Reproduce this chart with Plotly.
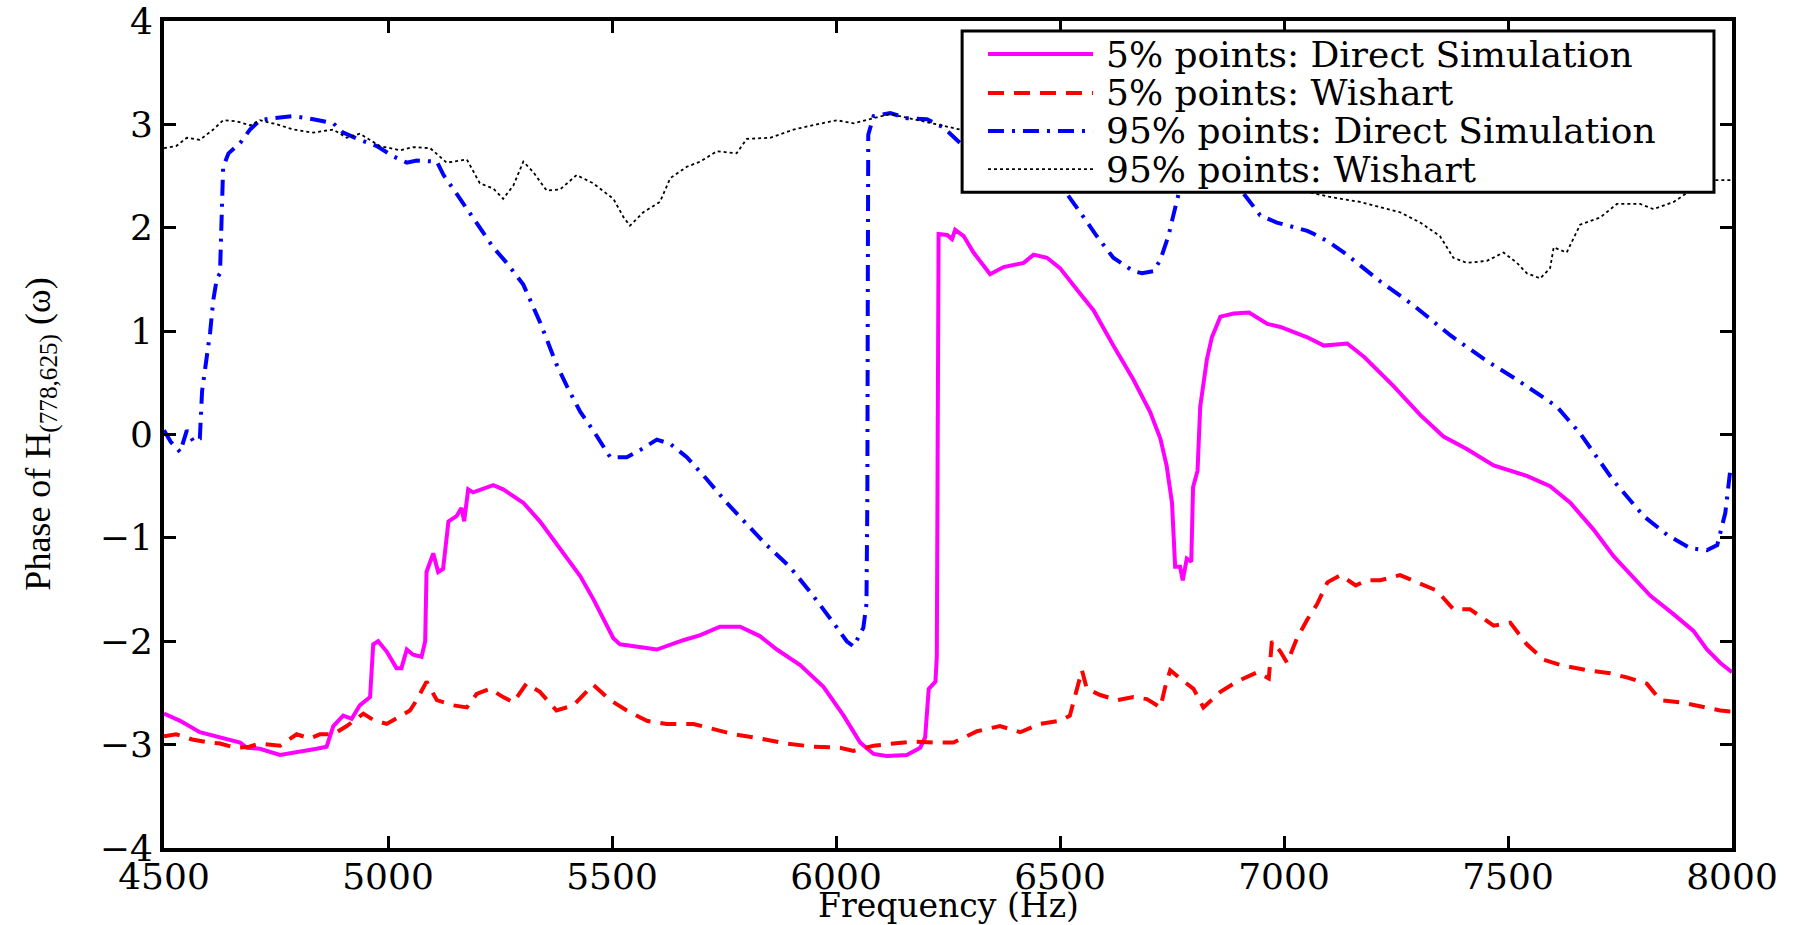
import plotly.graph_objects as go

# ---------------- data ----------------
freq_ds5 = [4500,4536,4580,4625,4670,4685,4714,4759,4804,4841,4863,4878,4900,4919,4937,4960,4967,4978,4997,5019,
            5030,5042,5056,5075,5083,5086,5101,5112,5123,5135,5153,5164,5170,5179,5190,5235,5257,5302,5339,5384,
            5429,5458,5503,5518,5555,5600,5659,5697,5741,5786,5830,5868,5920,5972,6017,6054,6084,6113,6158,6188,
            6199,6207,6222,6225,6229,6248,6259,6266,6285,6307,6344,6374,6419,6441,6471,6500,6538,6575,6619,6664,
            6701,6724,6738,6750,6757,6768,6774,6783,6793,6797,6807,6813,6828,6839,6858,6888,6922,6963,6992,7052,
            7089,7141,7179,7215,7244,7304,7356,7408,7468,7542,7594,7639,7691,7736,7780,7818,7870,7914,7944,7974,8000]
phase_ds5 = [-2.70,-2.77,-2.88,-2.93,-2.98,-3.03,-3.04,-3.10,-3.07,-3.04,-3.02,-2.82,-2.72,-2.75,-2.62,-2.54,-2.03,-2.00,-2.10,-2.26,
             -2.26,-2.08,-2.13,-2.15,-2.00,-1.33,-1.15,-1.33,-1.30,-0.84,-0.79,-0.71,-0.84,-0.53,-0.56,-0.49,-0.53,-0.66,-0.84,-1.10,
             -1.37,-1.59,-1.97,-2.03,-2.05,-2.08,-1.99,-1.94,-1.86,-1.86,-1.95,-2.08,-2.23,-2.44,-2.72,-2.98,-3.09,-3.11,-3.10,-3.03,
             -2.93,-2.46,-2.39,-2.15,1.94,1.93,1.89,1.98,1.92,1.76,1.55,1.62,1.66,1.74,1.71,1.61,1.40,1.20,0.86,0.53,
             0.22,-0.04,-0.30,-0.66,-1.28,-1.28,-1.41,-1.20,-1.23,-0.51,-0.35,0.27,0.73,0.94,1.14,1.17,1.18,1.07,1.04,0.94,
             0.86,0.88,0.75,0.60,0.47,0.19,-0.02,-0.14,-0.30,-0.40,-0.50,-0.66,-0.92,-1.18,-1.38,-1.56,-1.74,-1.90,-2.08,-2.21,-2.30]

freq_w5 = [4500,4527,4563,4600,4625,4660,4690,4714,4759,4796,4826,4848,4878,4908,4945,4967,4997,5027,5049,5064,
           5086,5109,5146,5176,5198,5228,5257,5280,5309,5339,5376,5414,5458,5496,5533,5578,5622,5682,5719,5771,
           5830,5890,5949,6009,6039,6084,6128,6173,6218,6262,6315,6366,6411,6455,6500,6522,6541,6549,6560,6590,
           6627,6664,6694,6724,6735,6746,6768,6798,6820,6858,6895,6940,6966,6973,6992,7007,7029,7052,7074,7097,
           7126,7160,7186,7215,7259,7296,7341,7378,7415,7468,7505,7542,7580,7617,7676,7728,7765,7810,7840,7884,
           7944,7974,8000]
phase_w5 = [-2.92,-2.90,-2.95,-2.98,-2.99,-3.03,-3.02,-2.99,-3.01,-2.90,-2.94,-2.90,-2.90,-2.82,-2.70,-2.76,-2.80,-2.72,-2.67,-2.57,
            -2.39,-2.57,-2.62,-2.64,-2.51,-2.46,-2.54,-2.59,-2.41,-2.49,-2.67,-2.62,-2.42,-2.57,-2.67,-2.77,-2.80,-2.80,-2.84,-2.90,
            -2.94,-2.99,-3.02,-3.03,-3.06,-3.01,-2.99,-2.97,-2.98,-2.98,-2.87,-2.82,-2.88,-2.80,-2.77,-2.72,-2.41,-2.28,-2.46,-2.52,
            -2.57,-2.54,-2.56,-2.64,-2.44,-2.28,-2.36,-2.46,-2.64,-2.49,-2.39,-2.30,-2.36,-2.00,-2.10,-2.21,-1.97,-1.79,-1.64,-1.43,
            -1.36,-1.46,-1.41,-1.41,-1.36,-1.43,-1.51,-1.69,-1.69,-1.85,-1.82,-2.03,-2.18,-2.23,-2.28,-2.31,-2.35,-2.41,-2.57,-2.59,
            -2.64,-2.67,-2.68]

freq_ds95 = [4500,4515,4536,4551,4566,4580,4585,4595,4603,4610,4618,4625,4629,4632,4644,4670,4692,4714,4744,4789,
             4833,4878,4900,4937,4975,5012,5042,5064,5109,5124,5153,5190,5235,5265,5302,5339,5376,5399,5429,5458,
             5496,5533,5563,5600,5630,5667,5711,5756,5801,5845,5897,5949,5994,6024,6039,6061,6068,6070,6071,6072,
             6084,6121,6158,6203,6240,6277,6350,6420,6480,6515,6545,6582,6619,6664,6683,6709,6724,6742,6753,6765,
             6800,6850,6910,6947,6984,7052,7067,7097,7134,7171,7215,7289,7371,7453,7520,7609,7661,7736,7803,7855,
             7907,7944,7967,7985,7996,8000]
phase_ds95 = [0.04,-0.07,-0.17,0.04,-0.07,-0.04,0.42,0.73,0.99,1.30,1.51,1.56,2.07,2.59,2.72,2.82,2.95,3.04,3.06,3.08,
              3.05,3.01,2.92,2.85,2.79,2.69,2.63,2.65,2.64,2.51,2.33,2.10,1.81,1.66,1.45,1.09,0.68,0.47,0.22,0.04,
              -0.22,-0.22,-0.15,-0.05,-0.09,-0.22,-0.43,-0.66,-0.87,-1.07,-1.28,-1.56,-1.82,-2.00,-2.05,-1.87,-1.64,-0.61,1.45,2.90,
              3.08,3.11,3.06,3.05,2.97,2.82,2.75,2.65,2.50,2.33,2.15,1.92,1.71,1.58,1.56,1.58,1.69,1.92,2.12,2.33,
              2.50,2.45,2.33,2.12,2.05,1.97,1.94,1.87,1.76,1.63,1.48,1.25,0.96,0.71,0.53,0.27,0.01,-0.45,-0.79,-0.97,
              -1.10,-1.12,-1.07,-0.76,-0.35,-0.30]

freq_w95 = [4500,4527,4551,4580,4610,4632,4662,4692,4714,4752,4789,4833,4878,4908,4937,4982,5027,5057,5094,5131,
            5176,5205,5235,5257,5280,5302,5324,5354,5384,5421,5458,5503,5526,5540,5570,5607,5630,5667,5697,5734,
            5778,5801,5853,5905,5957,6002,6039,6076,6121,6173,6225,6277,6400,6600,6800,7000,7100,7170,7215,7259,
            7304,7348,7378,7408,7453,7490,7520,7542,7572,7594,7602,7631,7661,7706,7743,7795,7825,7870,7914,7959,8000]
phase_w95 = [2.77,2.79,2.87,2.85,2.95,3.04,3.03,2.99,3.04,3.00,2.95,2.92,2.95,2.87,2.91,2.79,2.75,2.78,2.77,2.63,
             2.66,2.43,2.38,2.28,2.41,2.64,2.54,2.36,2.37,2.51,2.43,2.28,2.10,2.02,2.15,2.25,2.48,2.59,2.64,2.74,
             2.72,2.86,2.87,2.95,3.00,3.04,3.01,3.05,3.10,3.05,3.00,2.95,2.90,2.75,2.55,2.40,2.30,2.25,2.20,2.15,
             2.05,1.92,1.71,1.66,1.68,1.76,1.66,1.56,1.51,1.61,1.81,1.76,2.03,2.10,2.23,2.23,2.18,2.25,2.38,2.46,2.46]

x_ticks = [4500, 5000, 5500, 6000, 6500, 7000, 7500, 8000]
y_ticks = [-4, -3, -2, -1, 0, 1, 2, 3, 4]

series_names = ["5% points: Direct Simulation", "5% points: Wishart",
                "95% points: Direct Simulation", "95% points: Wishart"]
series_colors = ["#ff00ff", "#ff0000", "#0000ff", "#000000"]
series_widths = [4, 4, 4, 1.8]
series_dashes = ["solid", "16px,10px", "16px,8px,3px,8px", "3px,3px"]

x_title = "Frequency (Hz)"
y_title = "Phase of H<sub>(778,625)</sub> (ω)"

FONT = "DejaVu Serif"
FONT_Y = "Liberation Serif"

fig = go.Figure()
data = [(freq_ds5, phase_ds5), (freq_w5, phase_w5), (freq_ds95, phase_ds95), (freq_w95, phase_w95)]
for (fx, fy), name, col, w, d in zip(data, series_names, series_colors, series_widths, series_dashes):
    fig.add_trace(go.Scatter(x=fx, y=fy, mode="lines", name=name, showlegend=False,
                             line=dict(color=col, width=w, dash=d)))

# ---------------- legend box (MATLAB style) ----------------
leg_x0, leg_x1, leg_y0, leg_y1 = 0.509, 0.9885, 0.793, 0.988
fig.add_shape(type="rect", xref="paper", yref="paper", x0=leg_x0, x1=leg_x1, y0=leg_y0, y1=leg_y1,
              fillcolor="white", line=dict(color="black", width=3), layer="above")
row_y = [0.960, 0.913, 0.867, 0.821]
for ry, name, col, w, d in zip(row_y, series_names, series_colors, series_widths, series_dashes):
    fig.add_shape(type="line", xref="paper", yref="paper", x0=0.5255, x1=0.5925, y0=ry, y1=ry,
                  line=dict(color=col, width=w, dash=d), layer="above")
    fig.add_annotation(xref="paper", yref="paper", x=0.5995, y=ry, text=name, showarrow=False,
                       xanchor="left", yanchor="middle", font=dict(family=FONT, size=36, color="black"))

# ---------------- axis titles ----------------
fig.add_annotation(xref="paper", yref="paper", x=0.5, y=-0.0700, text=x_title, showarrow=False,
                   xanchor="center", yanchor="middle", font=dict(family=FONT, size=33, color="black"))
fig.add_annotation(xref="paper", yref="paper", x=-0.0790, y=0.5, text=y_title, showarrow=False,
                   textangle=-90, xanchor="center", yanchor="middle",
                   font=dict(family=FONT_Y, size=36, color="black"))

axis_common = dict(showline=True, linecolor="black", linewidth=4, mirror="ticks", ticks="inside",
                   ticklen=12, tickwidth=3, tickcolor="black", showgrid=False, zeroline=False,
                   tickfont=dict(family=FONT, size=36, color="black"), automargin=False,
                   ticklabeloverflow="allow")

fig.update_layout(
    width=1796, height=925,
    paper_bgcolor="white", plot_bgcolor="white",
    margin=dict(l=164, r=64, t=21, b=77),
    xaxis=dict(range=[4500, 8000], tickvals=x_ticks, ticklabelstandoff=-6, **axis_common),
    yaxis=dict(range=[-4, 4], tickvals=y_ticks, **axis_common),
    showlegend=False,
)

# remove the default page margin so the figure sits at the window's top-left corner
fig.write_html("out.html", config={"displayModeBar": False},
               post_script="document.body.style.margin='0';")
